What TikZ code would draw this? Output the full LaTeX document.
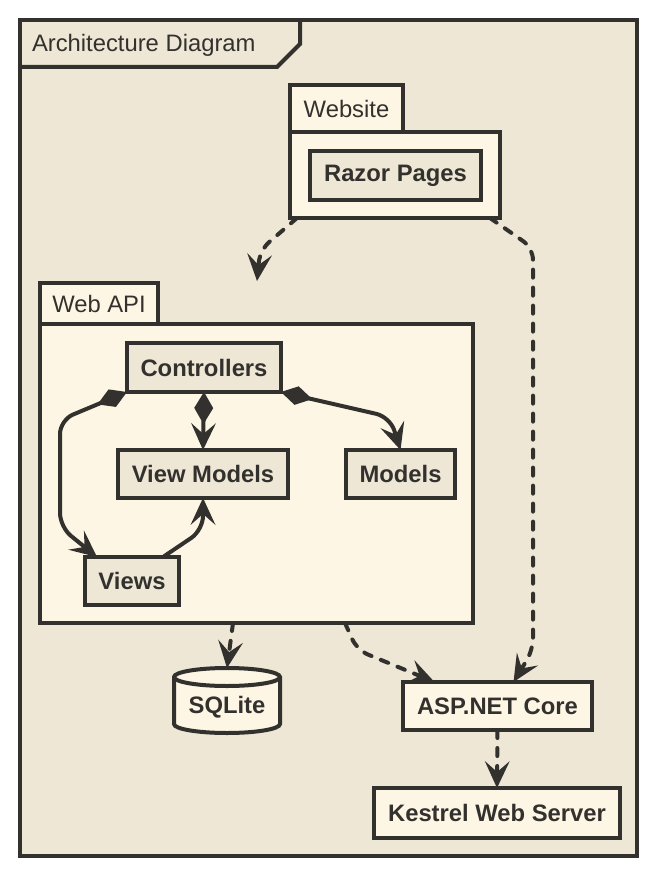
\documentclass[tikz,border=0pt]{standalone}
\usepackage{fontspec}
\setmainfont{Liberation Sans}
\usetikzlibrary{arrows.meta}

\definecolor{framebg}{HTML}{EEE7D6}
\definecolor{pkgbg}{HTML}{FDF6E4}
\definecolor{ink}{HTML}{33312E}

\tikzset{
    opentip/.tip={Stealth[length=27pt, width=25pt, inset=11pt, line width=0pt]},
    owntip/.tip={Diamond[length=32pt, width=19pt, line width=0pt]}
}

\begin{document}
\begin{tikzpicture}[x=1pt, y=-1pt,
    every node/.style={font=\fontsize{23.8}{28}\selectfont, text=ink, outer sep=0pt, inner sep=0pt},
    pkgbody/.style={draw=ink, line width=4pt, fill=pkgbg},
    pkgtab/.style={draw=ink, line width=4pt, fill=pkgbg},
    comp/.style={draw=ink, line width=4pt, fill=framebg, font=\fontsize{23.8}{28}\selectfont\bfseries},
    extbox/.style={draw=ink, line width=4pt, fill=pkgbg, font=\fontsize{23.8}{28}\selectfont\bfseries},
    dep/.style={draw=ink, line width=4pt, line cap=round, dash pattern=on 8pt off 10pt,
        rounded corners=12pt, -opentip},
    owns/.style={draw=ink, line width=4pt, rounded corners=14pt, owntip-opentip},
    uses/.style={draw=ink, line width=4pt, rounded corners=14pt, -opentip}
]
    \useasboundingbox (0,0) rectangle (656,874);
    \fill[white] (0,0) rectangle (656,874);

    % Frame
    \draw[draw=ink, line width=4pt, fill=framebg] (20,20) rectangle (637,856);
    \draw[draw=ink, line width=4pt] (20,67) -- (277,67) -- (300,44) -- (300,20);
    \node[anchor=west] (title) at (32,45) {Architecture Diagram};

    % Packages
    \node[pkgbody, minimum width=210pt, minimum height=86pt] (website) at (395,175) {};
    \node[pkgtab, anchor=south west, minimum width=113pt, minimum height=47pt] (websitetab) at (website.north west) {Website};
    \node[pkgbody, minimum width=433pt, minimum height=299pt] (webapi) at (256.5,473.5) {};
    \node[pkgtab, anchor=south west, minimum width=118pt, minimum height=41pt] (webapitab) at (webapi.north west) {Web API};

    % Components
    \node[comp, minimum width=171pt, minimum height=49pt] (razor) at (395.5,175.5) {Razor Pages};
    \node[comp, minimum width=154pt, minimum height=49pt] (controllers) at (204,367.5) {Controllers};
    \node[comp, minimum width=170pt, minimum height=48pt] (viewmodels) at (203,474) {View Models};
    \node[comp, minimum width=109pt, minimum height=48pt] (models) at (400.5,474) {Models};
    \node[comp, minimum width=94pt, minimum height=48pt] (views) at (132,581) {Views};

    % External
    \draw[draw=ink, line width=4pt, fill=pkgbg] (174,724) arc[start angle=180, end angle=0, x radius=53, y radius=9]
        -- (280,677) arc[start angle=0, end angle=-180, x radius=53, y radius=9] -- cycle;
    \draw[draw=ink, line width=4pt] (174,677) arc[start angle=180, end angle=0, x radius=53, y radius=9];
    \node[minimum width=106pt, minimum height=65pt,
        label={[font=\fontsize{23.8}{28}\selectfont\bfseries, text=ink, yshift=-7pt]center:SQLite}] (sqlite) at (227,700.5) {};
    \node[extbox, minimum width=189pt, minimum height=48pt] (aspnet) at (497.5,706) {ASP.NET Core};
    \node[extbox, minimum width=246pt, minimum height=50pt] (kestrel) at (497,813) {Kestrel Web Server};
    \coordinate (webapitop) at (257,281);

    % Dependencies
    \draw[dep] ([xshift=7pt]website.south west) -- (260,250) -- (webapitop);
    \draw[dep] ([xshift=-10pt]website.south east) -- (533,248) -- (533,650) -- ([xshift=16pt]aspnet.north);
    \draw[dep] ([xshift=-23.5pt]webapi.south) -- (sqlite.north);
    \draw[dep] ([xshift=88.5pt]webapi.south) -- (357,650) -- ([xshift=-63pt]aspnet.north);
    \draw[dep] (aspnet.south) -- (kestrel.north);

    % Web API internals
    \draw[owns] (controllers.south) -- (viewmodels.north);
    \draw[owns] (controllers.south east) -- (390,417) -- (models.north);
    \draw[owns] (controllers.south west) -- (60,420) -- (60,527) -- ([xshift=-35pt]views.north);
    \draw[uses] ([xshift=31pt]views.north) -- (203,530) -- (viewmodels.south);

\end{tikzpicture}
\end{document}
